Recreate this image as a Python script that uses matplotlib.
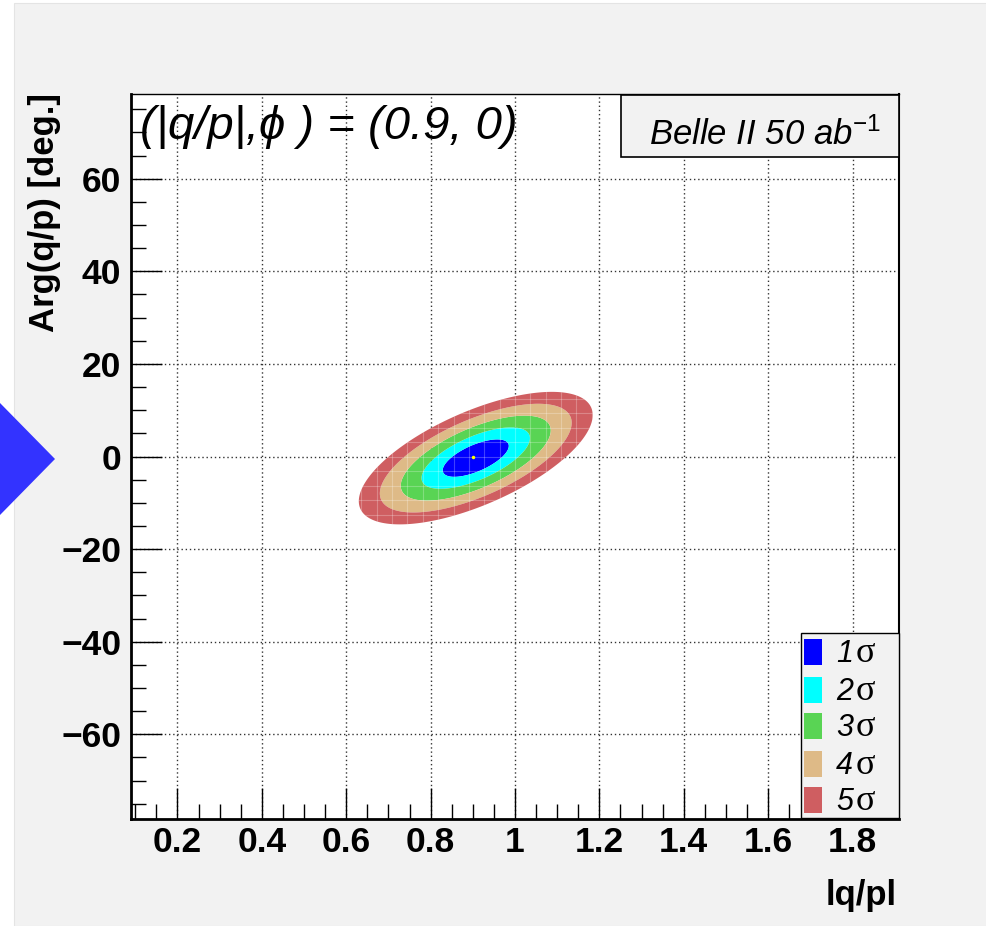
import numpy as np
import matplotlib
matplotlib.use("Agg")
from matplotlib import pyplot as plt
from matplotlib.patches import Rectangle, Polygon, PathPatch
from matplotlib.ticker import MultipleLocator

plt.rcParams['font.family'] = ['Liberation Sans', 'DejaVu Sans']
plt.rcParams['mathtext.fontset'] = 'custom'
plt.rcParams['mathtext.rm'] = 'Liberation Sans'
plt.rcParams['mathtext.it'] = 'Liberation Sans:italic'

# fit result
true_point = [0.9, 0.0]
fit_center = [0.907, -0.35]
sigma_qp = 0.0517      # |q/p|
sigma_phi = 2.67       # deg
rho = 0.65

# chi2 levels for 1..5 sigma (2 dof)
sigma_labels = ['1', '2', '3', '4', '5']
chi2_levels = [2.30, 6.18, 11.83, 19.33, 28.74]
fill_colors = ['#0000ff', '#00ffff', '#59d454', '#deba87', '#cf5e61']

x_ticks = [0.2, 0.4, 0.6, 0.8, 1.0, 1.2, 1.4, 1.6, 1.8]
x_ticklabels = ['0.2', '0.4', '0.6', '0.8', '1', '1.2', '1.4', '1.6', '1.8']
y_ticks = [-60, -40, -20, 0, 20, 40, 60]
x_range = (0.09, 1.91)
y_range = (-78.3, 78.3)

W, H = 987, 926
bg = '#f2f2f2'
fig = plt.figure(figsize=(W / 100, H / 100), dpi=100)
fig.patch.set_facecolor('white')

def fx(px):
    return px / W

def fy(py):
    return 1 - py / H

# gray canvas + arrow from the web page
fig.patches.append(Rectangle((fx(14), 0), 1 - fx(14), fy(3), transform=fig.transFigure,
                             facecolor=bg, edgecolor='#e4e4e4', lw=0.8, zorder=-2))
fig.patches.append(Polygon([(0, fy(403)), (fx(55), fy(459)), (0, fy(515))], closed=True,
                           transform=fig.transFigure, facecolor='#3333ff', edgecolor='none', zorder=-1))

ax = fig.add_axes([fx(131), fy(819), fx(899) - fx(131), fy(94) - fy(819)])
ax.set_facecolor('white')
ax.set_xlim(*x_range)
ax.set_ylim(*y_range)

# chi2 surface
gx = np.linspace(x_range[0], x_range[1], 500)
gy = np.linspace(y_range[0], y_range[1], 500)
X, Y = np.meshgrid(gx, gy)
u = (X - fit_center[0]) / sigma_qp
v = (Y - fit_center[1]) / sigma_phi
chi2 = (u ** 2 - 2 * rho * u * v + v ** 2) / (1 - rho ** 2)

ax.contourf(X, Y, chi2, levels=[0] + chi2_levels, colors=fill_colors, zorder=2, antialiased=True)

# faint seams of the binned fill
outer = ax.contourf(X, Y, chi2, levels=[0, chi2_levels[-1]], colors='none', zorder=1)
clip = PathPatch(outer.get_paths()[0], transform=ax.transData, facecolor='none', edgecolor='none')
ax.add_patch(clip)
bx = np.linspace(x_range[0], x_range[1], 51)
by = np.linspace(y_range[0], y_range[1], 51)
vl = ax.vlines(bx, y_range[0], y_range[1], colors='white', lw=0.8, alpha=0.25, zorder=3)
hl = ax.hlines(by, x_range[0], x_range[1], colors='white', lw=0.8, alpha=0.25, zorder=3)
vl.set_clip_path(clip)
hl.set_clip_path(clip)

ax.plot([true_point[0]], [true_point[1]], 'o', color='yellow', ms=2.5, mec='none', zorder=5)

# axes styling (ROOT look)
ax.set_xticks(x_ticks)
ax.set_xticklabels(x_ticklabels)
ax.set_yticks(y_ticks)
ax.xaxis.set_minor_locator(MultipleLocator(0.05))
ax.yaxis.set_minor_locator(MultipleLocator(5))
ax.tick_params(which='both', direction='in', top=False, right=False, width=1.0, color='black')
ax.tick_params(which='major', length=22)
ax.tick_params(which='minor', length=11)
ax.tick_params(axis='x', which='major', pad=5)
ax.tick_params(axis='y', which='major', pad=7)
for lab in ax.get_xticklabels() + ax.get_yticklabels():
    lab.set_fontweight('bold')
    lab.set_fontsize(25.5)
ax.grid(True, which='major', color='#333333', linestyle=(0, (1, 2)), lw=1.0, zorder=1)
ax.set_axisbelow(True)
for s in ['left', 'bottom']:
    ax.spines[s].set_linewidth(2.0)
ax.spines['right'].set_linewidth(1.5)
ax.spines['top'].set_linewidth(1.0)
ax.spines['top'].set_linestyle((0, (1, 1)))

# title inside frame
fig.text(fx(140), fy(139), '(|q/p|,ϕ ) = (0.9, 0)', fontsize=34, style='italic',
         ha='left', va='baseline', family=['Liberation Sans', 'DejaVu Sans'], zorder=6)

# Belle II box
fig.patches.append(Rectangle((fx(621), fy(157)), fx(899) - fx(621), fy(95) - fy(157),
                             transform=fig.transFigure, facecolor=bg, edgecolor='black', lw=1.2, zorder=5))
fig.text(fx(649), fy(145), 'Belle II 50 ab$^{-1}$', fontsize=25, style='italic',
         ha='left', va='baseline', zorder=6)

# legend box
fig.patches.append(Rectangle((fx(801), fy(818)), fx(899) - fx(801), fy(633) - fy(818),
                             transform=fig.transFigure, facecolor=bg, edgecolor='black', lw=1.0, zorder=5))
row_y = [652, 689.5, 726, 763.5, 800]
for lab, col, ry in zip(sigma_labels, fill_colors, row_y):
    fig.patches.append(Rectangle((fx(804), fy(ry + 13)), fx(18), 26 / H, transform=fig.transFigure,
                                 facecolor=col, edgecolor='none', zorder=6))
    fig.text(fx(836), fy(ry + 10), lab, fontsize=22, style='italic', ha='left', va='baseline', zorder=7)
    fig.text(fx(856), fy(ry + 10), 'σ', fontsize=26, family='Liberation Serif', ha='left',
             va='baseline', zorder=7)

# axis titles
fig.text(fx(45), fy(93), 'Arg(q/p) [deg.]', rotation=90, fontsize=25, fontweight='bold',
         ha='center', va='top')
fig.text(fx(897), fy(895), 'lq/pl', fontsize=25, fontweight='bold', ha='right', va='center')

fig.savefig('out.png', dpi=100, facecolor=fig.get_facecolor())
